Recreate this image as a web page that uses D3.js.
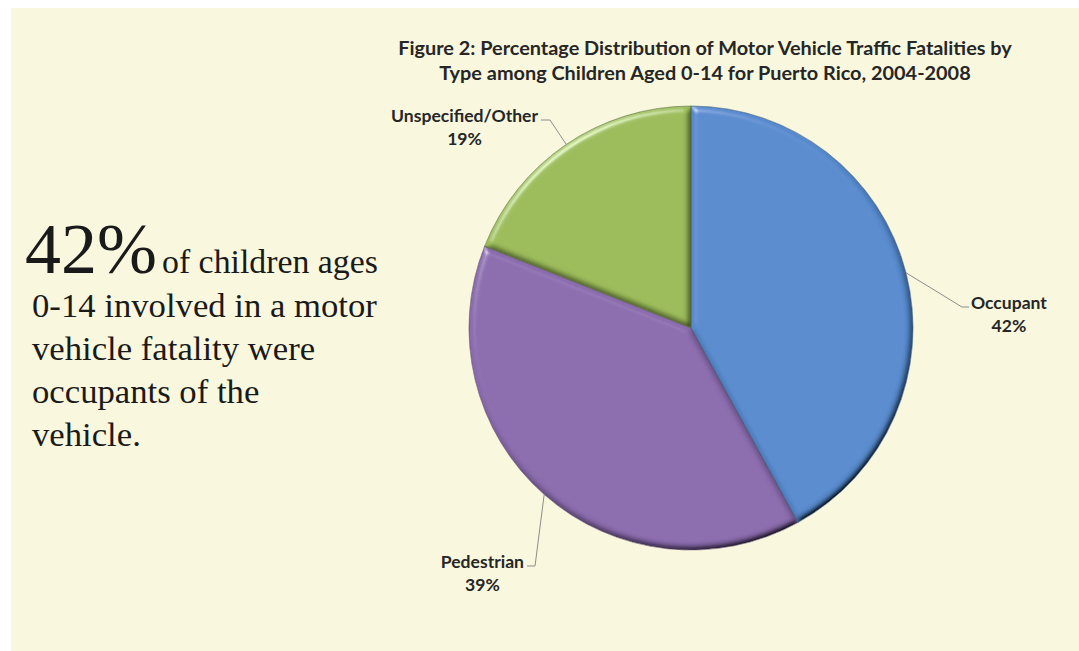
<!DOCTYPE html>
<html><head><meta charset="utf-8">
<script src="https://cdn.jsdelivr.net/npm/d3@7"></script>
<style>
html,body{margin:0;padding:0;background:#fff;}
svg{display:block;}
</style></head>
<body>
<svg id="chart" width="1079" height="651"></svg>
<script>
// ---- data ----
const categories = ["Occupant", "Pedestrian", "Unspecified/Other"];
const values = [42, 39, 19];
const valueLabels = ["42%", "39%", "19%"];
const colors = ["#568acd", "#8a6bad", "#9bbb59"];
const titleLines = [
  "Figure 2: Percentage Distribution of Motor Vehicle Traffic Fatalities by",
  "Type among Children Aged 0-14 for Puerto Rico, 2004-2008"
];
const bigStat = "42%";
const statLines = ["of children ages", "0-14 involved in a motor", "vehicle fatality were", "occupants of the", "vehicle."];

// ---- layout ----
const W = 1079, H = 651;
const cx = 691, cy = 328, R = 222;
const leader = [
  {ex: 271, ey: -21, hx: 7, anchor: "start"},
  {ex: -156, ey: 238, hx: -8, anchor: "end"},
  {ex: -141, ey: -208, hx: -9, anchor: "end"}
];
const sans = "Lato, 'Open Sans', sans-serif";
const serif = "'Liberation Serif', 'DejaVu Serif', serif";

function fit(sel, target) {
  sel.each(function() {
    const n = this, fs = parseFloat(n.getAttribute("font-size"));
    const w = n.getComputedTextLength();
    n.setAttribute("font-size", fs * target / w);
  });
}

const svg = d3.select("#chart");
svg.append("rect").attr("x", 11).attr("y", 8).attr("width", W - 11).attr("height", H - 8).attr("fill", "#f9f8df");

const defs = svg.append("defs");
const f = defs.append("filter").attr("id", "bevel").attr("x", "-10%").attr("y", "-10%").attr("width", "120%").attr("height", "120%");
f.append("feGaussianBlur").attr("in", "SourceAlpha").attr("stdDeviation", 3).attr("result", "blur");
const df = f.append("feDiffuseLighting").attr("in", "blur").attr("surfaceScale", 4).attr("diffuseConstant", 1.41)
  .attr("lighting-color", "#ffffff").attr("result", "diff");
df.append("feDistantLight").attr("azimuth", 235).attr("elevation", 45);
const sp = f.append("feSpecularLighting").attr("in", "blur").attr("surfaceScale", 4).attr("specularConstant", 0.7)
  .attr("specularExponent", 30).attr("lighting-color", "#ffffff").attr("result", "spec");
sp.append("feDistantLight").attr("azimuth", 235).attr("elevation", 35);
f.append("feComposite").attr("in", "SourceGraphic").attr("in2", "diff").attr("operator", "arithmetic")
  .attr("k1", 1).attr("k2", 0).attr("k3", 0).attr("k4", 0).attr("result", "lit");
f.append("feComposite").attr("in", "spec").attr("in2", "SourceAlpha").attr("operator", "in").attr("result", "specOut");
f.append("feComposite").attr("in", "lit").attr("in2", "specOut").attr("operator", "arithmetic")
  .attr("k1", 0).attr("k2", 1).attr("k3", 0.6).attr("k4", 0).attr("result", "lit2");
f.append("feComposite").attr("in", "lit2").attr("in2", "SourceAlpha").attr("operator", "in");

// title
const title = svg.selectAll("text.title").data(titleLines).join("text").attr("class", "title")
  .attr("x", 705).attr("y", (d, i) => 55 + i * 25).attr("text-anchor", "middle")
  .attr("font-family", sans).attr("font-weight", 700).attr("font-size", 16).attr("fill", "#262626")
  .text(d => d);
const t0 = title.nodes()[0];
const tfs = 16 * 614 / t0.getComputedTextLength();
title.attr("font-size", tfs);

// pie
const pie = d3.pie().sort(null).value(d => d.v);
const data = pie(categories.map((c, i) => ({c, v: values[i], lab: valueLabels[i], col: colors[i], L: leader[i]})));
const arc = d3.arc().innerRadius(0).outerRadius(R);
const g = svg.append("g").attr("transform", `translate(${cx},${cy})`);
g.selectAll("path.slice").data(data).join("path").attr("class", "slice")
  .attr("d", arc).attr("fill", d => d.data.col).attr("filter", "url(#bevel)");
g.selectAll("path.edge").data(data).join("path").attr("class", "edge")
  .attr("d", arc).attr("fill", "none").attr("stroke", d => d3.color(d.data.col).darker(1.5)).attr("stroke-width", 1).attr("stroke-opacity", 0.6);

// leader lines + labels
const mid = d => (d.startAngle + d.endAngle) / 2;
g.selectAll("path.leader").data(data).join("path").attr("class", "leader")
  .attr("d", d => {
    const a = mid(d);
    const x0 = R * Math.sin(a), y0 = -R * Math.cos(a);
    return `M${x0},${y0}L${d.data.L.ex},${d.data.L.ey}L${d.data.L.ex + d.data.L.hx},${d.data.L.ey}`;
  })
  .attr("fill", "none").attr("stroke", "#8c8c8c").attr("stroke-width", 1);

// label font size fitted so "Unspecified/Other" is ~147px wide
const probe = svg.append("text").attr("font-family", sans).attr("font-weight", 700).attr("font-size", 14).text(categories[2]);
const labFs = 14 * 147 / probe.node().getComputedTextLength();
probe.remove();
g.selectAll("g.lab").data(data).join("g").attr("class", "lab").each(function(d) {
  const gg = d3.select(this);
  const L = d.data.L;
  const tx = L.ex + L.hx + (L.anchor === "start" ? 2 : -3);
  const t1 = gg.append("text").attr("x", tx).attr("y", L.ey + 2).attr("text-anchor", L.anchor)
    .attr("font-family", sans).attr("font-weight", 700).attr("font-size", labFs).attr("fill", "#262626").text(d.data.c);
  const w = t1.node().getComputedTextLength();
  const cxl = L.anchor === "start" ? tx + w / 2 : tx - w / 2;
  gg.append("text").attr("x", cxl).attr("y", L.ey + 25).attr("text-anchor", "middle")
    .attr("font-family", sans).attr("font-weight", 700).attr("font-size", labFs).attr("fill", "#262626").text(d.data.lab);
});

// left stat text
const big = svg.append("text").attr("x", 25).attr("y", 273).attr("font-family", serif).attr("font-size", 62).attr("fill", "#1a1a1a").text(bigStat);
fit(big, 132);
const s0 = svg.append("text").attr("x", 162).attr("y", 273).attr("font-family", serif).attr("font-size", 30).attr("fill", "#1a1a1a").text(statLines[0]);
fit(s0, 216);
const rest = svg.selectAll("text.stat").data(statLines.slice(1)).join("text").attr("class", "stat")
  .attr("x", 32).attr("y", (d, i) => 317 + i * 43)
  .attr("font-family", serif).attr("font-size", 30).attr("fill", "#1a1a1a").text(d => d);
const rfs = 30 * 345 / rest.nodes()[0].getComputedTextLength();
rest.attr("font-size", rfs);
</script>
</body></html>
